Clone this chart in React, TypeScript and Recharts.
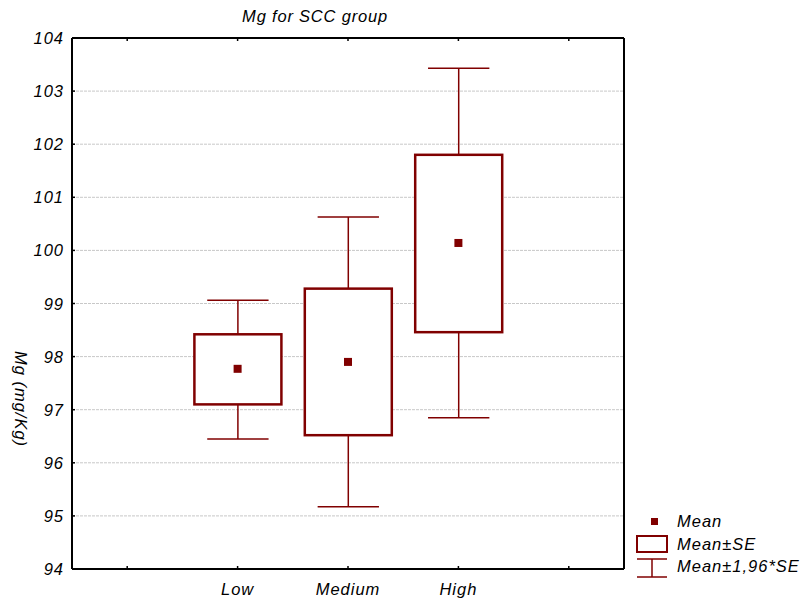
import React from 'react';
import { ComposedChart, Bar, Scatter, XAxis, YAxis, CartesianGrid } from 'recharts';

// SCC groups (empty slots at both ends, as in the original plot)
const groups = ['', 'Low', 'Medium', 'High', ' '];
const means = [null, 97.77, 97.9, 100.14, null];
const seLow = [null, 97.1, 96.52, 98.46, null];
const seHigh = [null, 98.42, 99.28, 101.8, null];
const ciLow = [null, 96.45, 95.17, 96.85, null];
const ciHigh = [null, 99.06, 100.63, 103.43, null];
const yTicks = [94, 95, 96, 97, 98, 99, 100, 101, 102, 103, 104];

const RED = '#800000';
const FONT = '"Liberation Sans", Arial, sans-serif';

const data = groups.map((g, i) => ({
  group: g,
  mean: means[i],
  se: seLow[i] == null ? null : [seLow[i], seHigh[i]],
  ci: ciLow[i] == null ? null : [ciLow[i], ciHigh[i]],
}));

const textStyle = {
  fontFamily: FONT,
  fontStyle: 'italic',
  fontSize: 16.5,
  letterSpacing: 1,
  fill: '#000',
};

const BoxShape = (props: any) => {
  const { x, y, width, height, payload } = props;
  if (!payload || !payload.ci || !payload.se) return <g />;
  const [lo, hi] = payload.ci;
  const ppu = height / (hi - lo);
  const cx = x + width / 2;
  const boxTop = y + (hi - payload.se[1]) * ppu;
  const boxBottom = y + (hi - payload.se[0]) * ppu;
  const cap = width * 0.705;
  return (
    <g>
      <line x1={cx} x2={cx} y1={y} y2={y + height} stroke={RED} strokeWidth={1.5} />
      <line x1={cx - cap / 2} x2={cx + cap / 2} y1={y} y2={y} stroke={RED} strokeWidth={1.5} />
      <line x1={cx - cap / 2} x2={cx + cap / 2} y1={y + height} y2={y + height} stroke={RED} strokeWidth={1.5} />
      <rect x={x} y={boxTop} width={width} height={boxBottom - boxTop} fill="#fff" stroke={RED} strokeWidth={2.5} />
    </g>
  );
};

const MeanShape = (props: any) => {
  const { cx, cy, payload } = props;
  if (!payload || payload.mean == null || cy == null || isNaN(cy)) return <g />;
  return <rect x={cx - 4} y={cy - 4} width={8} height={8} fill={RED} />;
};

const BottomTick = (props: any) => {
  const { x, y, payload } = props;
  return (
    <g>
      <line x1={x} x2={x} y1={y} y2={y - 3} stroke="#000" strokeWidth={1.5} />
      <text x={x} y={y + 26} textAnchor="middle" style={textStyle}>
        {payload.value.trim()}
      </text>
    </g>
  );
};

const TopTick = (props: any) => {
  const { x, y } = props;
  return <line x1={x} x2={x} y1={y} y2={y + 3} stroke="#000" strokeWidth={1.5} />;
};

const LeftTick = (props: any) => {
  const { x, y, payload } = props;
  return (
    <g>
      <line x1={x} x2={x + 3} y1={y} y2={y} stroke="#000" strokeWidth={1.5} />
      <text x={x - 8} y={y + 6} textAnchor="end" style={textStyle}>
        {payload.value}
      </text>
    </g>
  );
};

const RightTick = (props: any) => {
  const { x, y } = props;
  return <line x1={x} x2={x - 3} y1={y} y2={y} stroke="#000" strokeWidth={1.5} />;
};

export default function App() {
  return (
    <div style={{ position: 'absolute', left: 0, top: 0, width: 803, height: 600, background: '#fff' }}>
      <ComposedChart
        width={803}
        height={600}
        data={data}
        margin={{ top: 37, right: 178, bottom: 0, left: 0 }}
      >
        <CartesianGrid vertical={false} stroke="#c8c8c8" strokeDasharray="3 1" />
        <XAxis
          dataKey="group"
          height={31}
          interval={0}
          tickSize={0}
          tickMargin={0}
          tickLine={false}
          axisLine={{ stroke: '#000', strokeWidth: 2 }}
          tick={<BottomTick />}
        />
        <XAxis
          xAxisId="top"
          orientation="top"
          dataKey="group"
          height={1}
          interval={0}
          tickSize={0}
          tickMargin={0}
          tickLine={false}
          axisLine={{ stroke: '#000', strokeWidth: 2 }}
          tick={<TopTick />}
        />
        <YAxis
          domain={[94, 104]}
          ticks={yTicks}
          interval={0}
          width={72}
          tickSize={0}
          tickMargin={0}
          tickLine={false}
          axisLine={{ stroke: '#000', strokeWidth: 2 }}
          tick={<LeftTick />}
        />
        <YAxis
          yAxisId="right"
          orientation="right"
          domain={[94, 104]}
          ticks={yTicks}
          interval={0}
          width={1}
          tickSize={0}
          tickMargin={0}
          tickLine={false}
          axisLine={{ stroke: '#000', strokeWidth: 2 }}
          tick={<RightTick />}
        />
        <Bar dataKey="ci" barSize={87} shape={<BoxShape />} isAnimationActive={false} />
        <Scatter dataKey="mean" shape={<MeanShape />} isAnimationActive={false} />
      </ComposedChart>
      <svg width={803} height={600} style={{ position: 'absolute', left: 0, top: 0, pointerEvents: 'none' }}>
        <text x={315} y={22} textAnchor="middle" style={{ ...textStyle, letterSpacing: 0.8 }}>
          Mg for SCC group
        </text>
        <text
          x={0}
          y={0}
          textAnchor="middle"
          transform="translate(15, 399) rotate(90)"
          style={textStyle}
        >
          Mg (mg/Kg)
        </text>
        <g transform="translate(634, 510)">
          <rect x={17} y={8} width={7} height={7} fill={RED} />
          <text x={43} y={17} style={textStyle}>Mean</text>
          <rect x={3} y={26} width={30} height={16} fill="#fff" stroke={RED} strokeWidth={2} />
          <text x={43} y={40} style={textStyle}>Mean±SE</text>
          <line x1={3} x2={33} y1={49} y2={49} stroke={RED} strokeWidth={1.5} />
          <line x1={3} x2={33} y1={67} y2={67} stroke={RED} strokeWidth={1.5} />
          <line x1={18} x2={18} y1={49} y2={67} stroke={RED} strokeWidth={1.5} />
          <text x={43} y={62} style={textStyle}>Mean±1,96*SE</text>
        </g>
      </svg>
    </div>
  );
}
